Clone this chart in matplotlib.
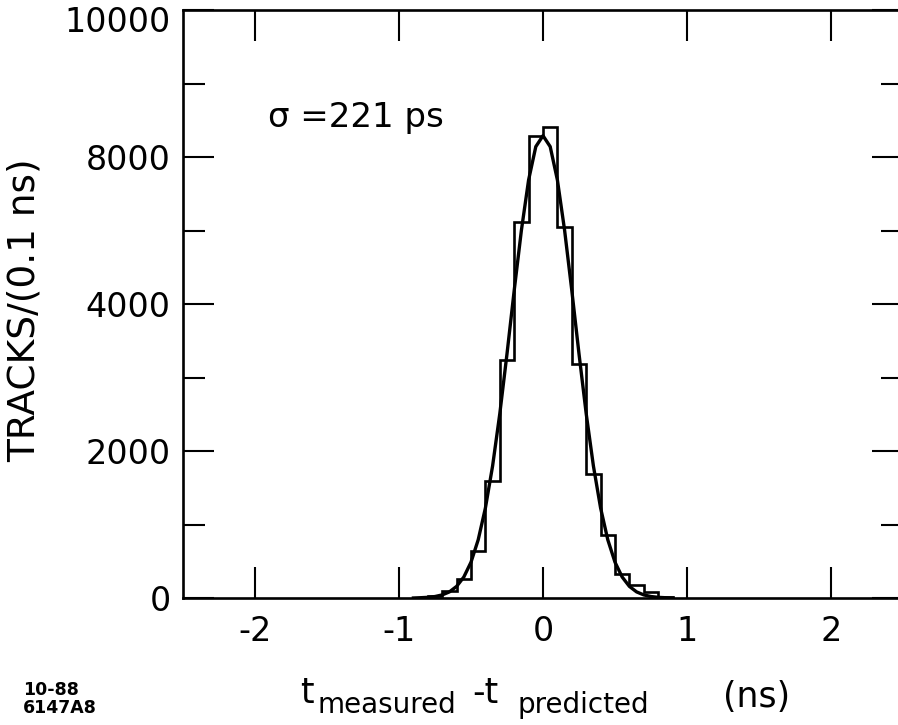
import matplotlib
matplotlib.use("Agg")
import matplotlib.pyplot as plt
import matplotlib.transforms as mtransforms
from matplotlib.ticker import FixedLocator

plt.rcParams['font.family'] = ['DejaVu Sans']
plt.rcParams['axes.unicode_minus'] = False

# histogram (0.1 ns bins)
bin_edges = [-0.8, -0.7, -0.6, -0.5, -0.4, -0.3, -0.2, -0.1, 0.0,
             0.1, 0.2, 0.3, 0.4, 0.5, 0.6, 0.7, 0.8, 0.9]
tracks = [25, 95, 259, 640, 1594, 3243, 5109, 6281, 6403,
          5041, 3188, 1689, 858, 327, 177, 82, 15]

# fitted curve, points
fit_x = [-0.90, -0.85, -0.80, -0.75, -0.70, -0.65, -0.60, -0.55, -0.50,
         -0.45, -0.40, -0.35, -0.30, -0.25, -0.20, -0.15, -0.10, -0.05,
         0.00, 0.05, 0.10, 0.15, 0.20, 0.25, 0.30, 0.35, 0.40, 0.45,
         0.50, 0.55, 0.60, 0.65, 0.70, 0.75, 0.80, 0.85, 0.90]
fit_y = [0, 4, 9, 20, 42, 83, 158, 285, 487,
         792, 1224, 1797, 2508, 3322, 4184, 5003, 5687, 6141,
         6290, 6141, 5687, 5003, 4184, 3322, 2508, 1797, 1224, 792,
         487, 285, 158, 83, 42, 20, 9, 4, 0]

x_ticks = [-2, -1, 0, 1, 2]
x_labels = ['-2', '-1', '0', '1', '2']
y_ticks = [0, 2000, 4000, 6000, 8000]
y_labels = ['0', '2000', '4000', '8000', '10000']
y_minor = [1000, 3000, 5000, 7000]

W, H = 898, 725
fig = plt.figure(figsize=(W / 100, H / 100), dpi=100)
ax = fig.add_axes([183 / W, 1 - 598 / H, 720 / W, 588 / H])

ax.stairs(tracks, bin_edges, color='black', linewidth=1.9)
ax.plot(fit_x, fit_y, color='black', linewidth=2.4)

ax.set_xlim(-2.5, 2.5)
ax.set_ylim(0, 8000)
ax.set_xticks(x_ticks)
ax.set_xticklabels(x_labels)
ax.set_yticks(y_ticks)
ax.set_yticklabels(y_labels)
ax.yaxis.set_minor_locator(FixedLocator(y_minor))

for s in ax.spines.values():
    s.set_linewidth(1.9)

ax.tick_params(which='both', direction='in', top=True, right=True,
               width=1.5, labelsize=24, colors='black')
ax.tick_params(which='major', length=22)
ax.tick_params(which='minor', length=16)
ax.tick_params(axis='x', pad=12)
ax.tick_params(axis='y', pad=9)

# top label sits a bit below the corner in the original
top_lab = ax.get_yticklabels()[-1]
top_lab.set_transform(top_lab.get_transform() +
                      mtransforms.ScaledTranslation(0, -9 / 100, fig.dpi_scale_trans))

def fx(x):
    return x / W

def fy(y):
    return 1 - y / H

fig.text(fx(25), fy(310), 'TRACKS/(0.1 ns)', rotation=90, fontsize=27,
         ha='center', va='center')
fig.text(fx(268), fy(127), '\u03c3 =221 ps', fontsize=24.5, va='baseline')

# x axis title built from pieces (subscripts)
fig.text(fx(300), fy(703), 't', fontsize=25, va='baseline')
fig.text(fx(318), fy(713), 'measured', fontsize=20, va='baseline')
fig.text(fx(472), fy(703), '-t', fontsize=25, va='baseline')
fig.text(fx(517), fy(713), 'predicted', fontsize=20, va='baseline')
fig.text(fx(723), fy(707), '(ns)', fontsize=25, va='baseline')

fig.text(fx(23), fy(695), '10-88', fontsize=12.5, fontweight='bold', va='baseline')
fig.text(fx(23), fy(713), '6147A8', fontsize=12.5, fontweight='bold', va='baseline')

fig.savefig('out.png', dpi=100)
